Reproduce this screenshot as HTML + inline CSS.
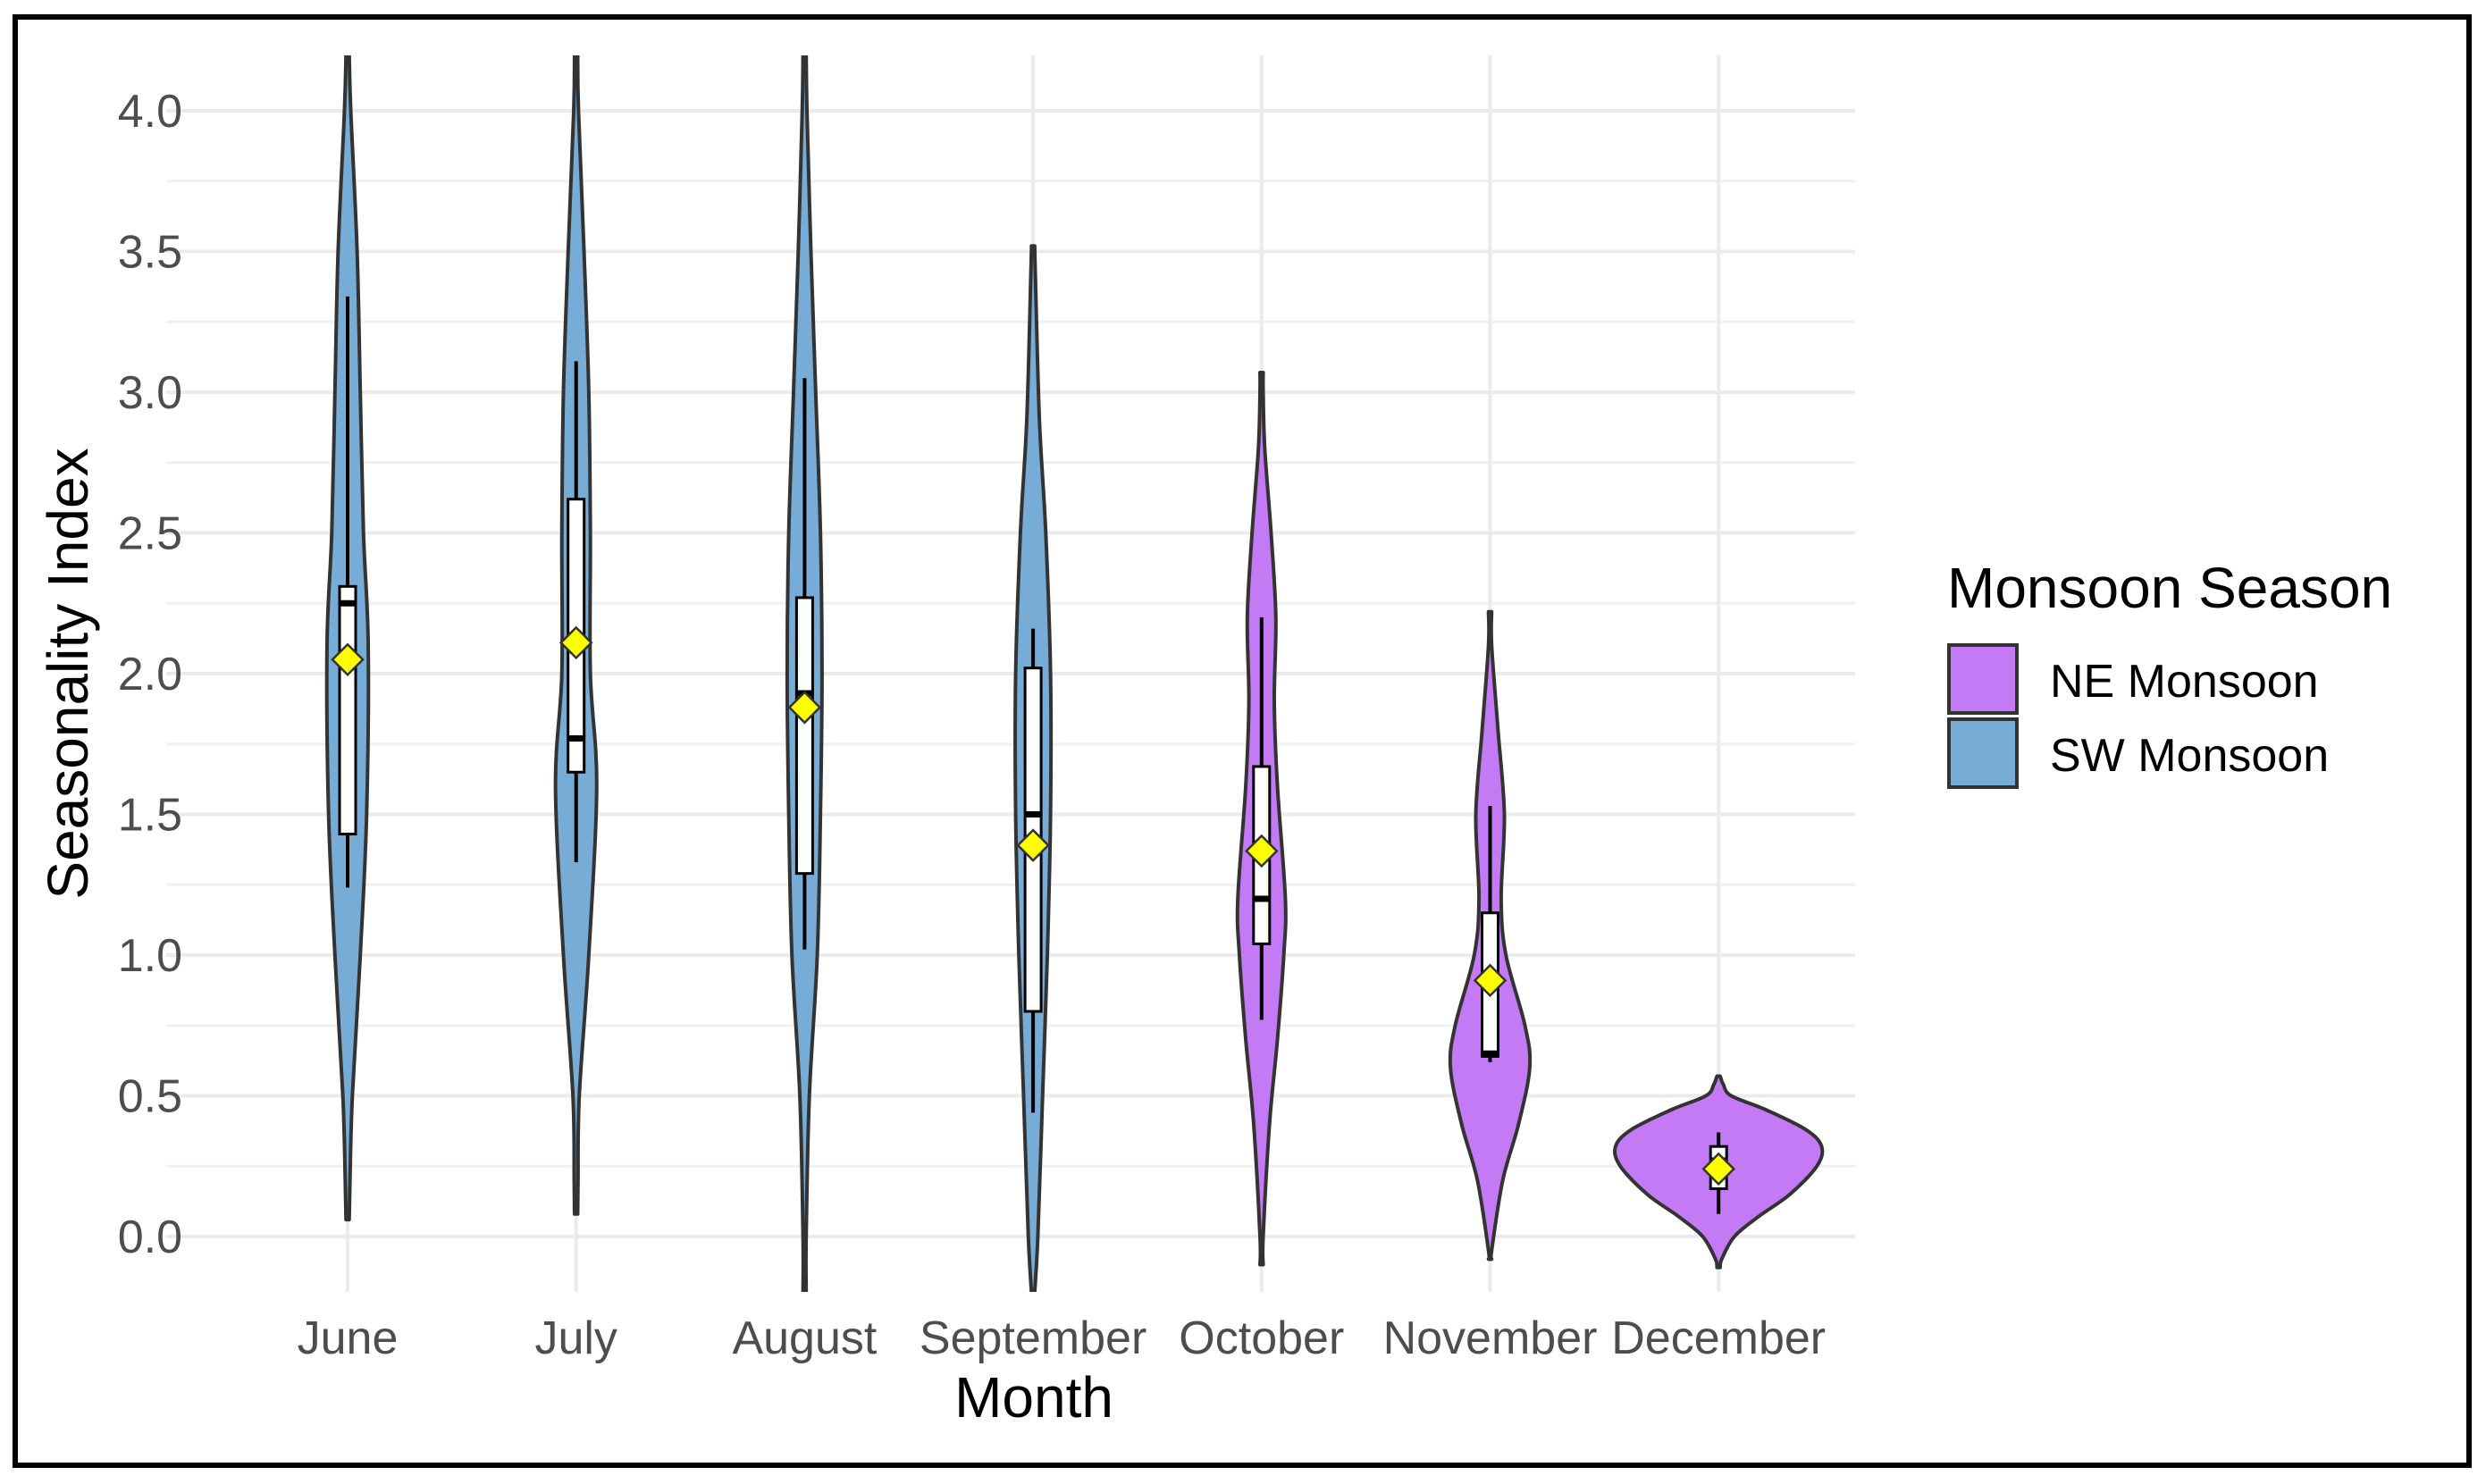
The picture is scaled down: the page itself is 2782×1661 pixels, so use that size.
<!DOCTYPE html>
<html><head><meta charset="utf-8"><style>
html,body{margin:0;padding:0;background:#fff;}
svg{display:block;font-family:"Liberation Sans",Arial,sans-serif;}
</style></head><body>
<svg id="chart" width="2782" height="1661" viewBox="0 0 2782 1661" xmlns="http://www.w3.org/2000/svg">
<rect x="0" y="0" width="2782" height="1661" fill="#fff"/>
<g id="grid"></g>
<g id="violins"></g>
<g id="yticks"></g>
<g id="xticks"></g>
<text x="1157" y="1586" font-size="64" text-anchor="middle" fill="#000">Month</text>
<text transform="translate(98,754) rotate(-90)" font-size="64" text-anchor="middle" fill="#000">Seasonality Index</text>
<g>
<text x="2179" y="680" font-size="64" fill="#000">Monsoon Season</text>
<g>
<rect x="2181" y="722" width="76" height="76" fill="#c479f5" stroke="#333" stroke-width="4"/>
<text x="2294" y="780" font-size="52" fill="#000">NE Monsoon</text>
</g>
<g>
<rect x="2181" y="805" width="76" height="76" fill="#76acd5" stroke="#333" stroke-width="4"/>
<text x="2294" y="863" font-size="52" fill="#000">SW Monsoon</text>
</g>
</g>
<rect x="17" y="19" width="2746" height="1621" fill="none" stroke="#000" stroke-width="6"/>
</svg>
<script>
const months = ["June","July","August","September","October","November","December"];
const season = ["SW","SW","SW","SW","NE","NE","NE"];
// violin profiles: values and relative densities (half-width units)
const densVals = [
 [4.2,4.0,3.5,3.0,2.5,2.1,1.5,1.0,0.5,0.2,0.06],
 [4.2,4.0,3.5,3.0,2.5,2.0,1.6,1.0,0.5,0.2,0.08],
 [4.2,4.0,3.5,3.0,2.5,2.0,1.5,1.0,0.5,0.0,-0.2],
 [3.52,3.4,2.9,2.5,2.0,1.5,1.0,0.5,0.0,-0.2],
 [3.07,3.0,2.8,2.5,2.2,1.9,1.6,1.2,1.0,0.7,0.4,0.0,-0.1],
 [2.22,2.1,1.8,1.5,1.2,1.0,0.75,0.6,0.4,0.2,-0.05,-0.08],
 [0.57,0.54,0.5,0.45,0.38,0.32,0.25,0.15,0.07,0.0,-0.08,-0.11]
];
const densW = [
 [1,2,6,8,10,13,12,8,3,1.5,1],
 [1,1.5,5,8,9,9,13,8,2,1.2,1],
 [1,1.5,4,7,10,11,10,8,3,1,1],
 [1,1.5,4,8,11,11,9,6,3,1],
 [1,1,2,6,9,8,10,15,14,10,5,1,1],
 [1,1,5,9,7,10,22,25,18,8,1,1],
 [1,3,8,30,55,65,62,45,25,10,2,1]
];
const q1 = [1.43,1.65,1.29,0.80,1.04,0.64,0.17];
const med = [2.25,1.77,1.93,1.50,1.20,0.65,0.27];
const q3 = [2.31,2.62,2.27,2.02,1.67,1.15,0.32];
const whLo = [1.24,1.33,1.02,0.44,0.77,0.62,0.08];
const whHi = [3.34,3.11,3.05,2.16,2.20,1.53,0.37];
const means = [2.05,2.11,1.88,1.39,1.37,0.91,0.24];
const yTicks = ["0.0","0.5","1.0","1.5","2.0","2.5","3.0","3.5","4.0"];

const NS="http://www.w3.org/2000/svg";
const X0=389, XSTEP=255.7, Y0=1384, YU=315;
const xS=i=>X0+i*XSTEP;
const yS=v=>Y0-v*YU;
const wS=d=>d*1.774;
const PL=186, PR=2076, PT=62, PB=1446;
function mk(tag,attrs,parent){const e=document.createElementNS(NS,tag);for(const k in attrs)e.setAttribute(k,attrs[k]);parent.appendChild(e);return e;}
const grid=document.getElementById('grid');
for(let k=0;k<yTicks.length;k++){
  const v=parseFloat(yTicks[k]);
  const l=mk('line',{x1:PL,x2:PR,y1:yS(v),y2:yS(v),stroke:'#ebebeb','stroke-width':4},grid);
  
  
  if(k<yTicks.length-1){
    const m=mk('line',{x1:PL,x2:PR,y1:yS(v+0.25),y2:yS(v+0.25),stroke:'#f0f0f0','stroke-width':3},grid);
    
    
  }
}
for(let i=0;i<months.length;i++){
  const l=mk('line',{x1:xS(i),x2:xS(i),y1:PT,y2:PB,stroke:'#ebebeb','stroke-width':4},grid);
  
  
}
const yt=document.getElementById('yticks');
yTicks.forEach(t=>{
  const e=mk('text',{x:204,y:yS(parseFloat(t))+18,'font-size':52,'text-anchor':'end',fill:'#4d4d4d'},yt);
  e.textContent=t;
  
  
});
const xt=document.getElementById('xticks');
months.forEach((m,i)=>{
  const e=mk('text',{x:xS(i),y:1515,'font-size':52,'text-anchor':'middle',fill:'#4d4d4d'},xt);
  e.textContent=m;
  
  
});
// clip
const defs=mk('defs',{},document.getElementById('chart'));
const cp=mk('clipPath',{id:'pc'},defs);
mk('rect',{x:0,y:PT,width:2782,height:PB-PT},cp);
function smooth(pts){
  let d=`M${pts[0][0]},${pts[0][1]}`;
  for(let i=0;i<pts.length-1;i++){
    const p0=pts[Math.max(0,i-1)],p1=pts[i],p2=pts[i+1],p3=pts[Math.min(pts.length-1,i+2)];
    const c1=[p1[0]+(p2[0]-p0[0])/6,p1[1]+(p2[1]-p0[1])/6];
    const c2=[p2[0]-(p3[0]-p1[0])/6,p2[1]-(p3[1]-p1[1])/6];
    d+=`C${c1[0]},${c1[1]} ${c2[0]},${c2[1]} ${p2[0]},${p2[1]}`;
  }
  return d;
}
const vg=document.getElementById('violins');
vg.setAttribute('clip-path','url(#pc)');
months.forEach((m,i)=>{
  const cx=xS(i);
  const g=mk('g',{},vg);
  
  
  const right=densVals[i].map((v,k)=>[cx+wS(densW[i][k]),yS(v)]);
  const left=densVals[i].map((v,k)=>[cx-wS(densW[i][k]),yS(v)]).reverse();
  const d=smooth(right)+smooth(left).replace(/^M/,'L')+'Z';
  const p=mk('path',{d:d,fill:season[i]==='SW'?'#76acd5':'#c479f5',stroke:'#333','stroke-width':4,'stroke-linejoin':'round'},g);
  
  
  const w=mk('line',{x1:cx,x2:cx,y1:yS(whLo[i]),y2:yS(whHi[i]),stroke:'#000','stroke-width':4},g);
  
  
  const b=mk('rect',{x:cx-9,y:yS(q3[i]),width:18,height:yS(q1[i])-yS(q3[i]),fill:'#fff',stroke:'#000','stroke-width':3},g);
  
  
  const md=mk('line',{x1:cx-9,x2:cx+9,y1:yS(med[i]),y2:yS(med[i]),stroke:'#000','stroke-width':7},g);
  
  
  const my=yS(means[i]), s=17;
  const dm=mk('path',{d:`M${cx},${my-s}L${cx+s},${my}L${cx},${my+s}L${cx-s},${my}Z`,fill:'#ffff00',stroke:'#333','stroke-width':2.5},g);
  
  
});
</script>
</body></html>
